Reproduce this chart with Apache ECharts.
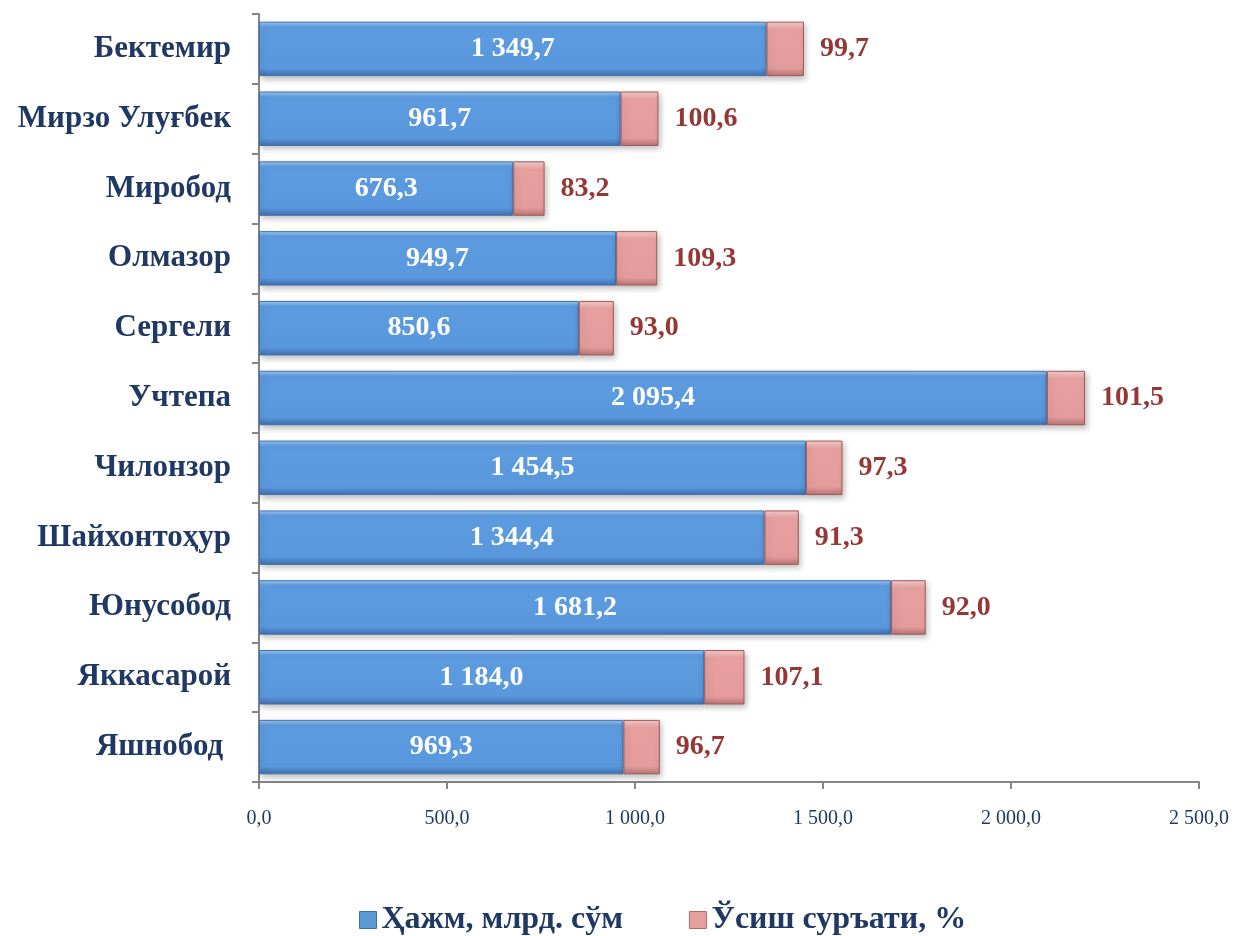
<!DOCTYPE html>
<html><head><meta charset="utf-8">
<script src="https://cdn.jsdelivr.net/npm/echarts@6/dist/echarts.min.js"></script>
<style>html,body{margin:0;padding:0;background:#fff}#c{width:1239px;height:936px}</style>
</head><body><div id="c"></div>
<script>
const categories = ['Бектемир','Мирзо Улуғбек','Миробод','Олмазор','Сергели','Учтепа','Чилонзор','Шайхонтоҳур','Юнусобод','Яккасарой','Яшнобод '];
const volume = [1349.7, 961.7, 676.3, 949.7, 850.6, 2095.4, 1454.5, 1344.4, 1681.2, 1184.0, 969.3];
const growth = [99.7, 100.6, 83.2, 109.3, 93.0, 101.5, 97.3, 91.3, 92.0, 107.1, 96.7];
const seriesNames = ['Ҳажм, млрд. сўм', 'Ўсиш суръати, %'];

function fmt(v){
  const s = v.toFixed(1).split('.');
  const int = s[0].replace(/\B(?=(\d{3})+(?!\d))/g, ' ');
  return int + ',' + s[1];
}
const font = '"Liberation Serif", "Times New Roman", serif';
const navy = '#1F3864';
const chart = echarts.init(document.getElementById('c'));
chart.setOption({
  animation: false,
  grid: {left: 259, right: 40, top: 14, bottom: 154, containLabel: false},
  legend: {
    top: 899, left: 354, itemGap: 66, itemWidth: 17, itemHeight: 17,
    textStyle: {fontFamily: font, fontWeight: 'bold', fontSize: 32, color: navy},
    data: [
      {name: seriesNames[0], icon: 'rect', itemStyle: {color: '#5B9BD5', borderColor: '#3A6EA5', borderWidth: 1}},
      {name: seriesNames[1], icon: 'rect', itemStyle: {color: '#E6A09E', borderColor: '#B56A68', borderWidth: 1}}
    ]
  },
  xAxis: {
    type: 'value', min: 0, max: 2500, interval: 500,
    axisLine: {show: true, lineStyle: {color: '#868686', width: 2}},
    axisTick: {show: true, length: 7, lineStyle: {color: '#868686', width: 2}},
    splitLine: {show: false},
    axisLabel: {margin: 27, fontFamily: font, fontSize: 20, color: navy, formatter: v => fmt(v)}
  },
  yAxis: {
    type: 'category', inverse: true, data: categories,
    axisLine: {show: true, lineStyle: {color: '#868686', width: 2}},
    axisTick: {show: true, length: 7, lineStyle: {color: '#868686', width: 2}},
    axisLabel: {margin: 28, fontFamily: font, fontWeight: 'bold', fontSize: 31, color: navy}
  },
  series: [
    {
      name: seriesNames[0], type: 'bar', stack: 't', data: volume, barCategoryGap: '22%',
      itemStyle: {
        color: new echarts.graphic.LinearGradient(0,0,0,1,[
          {offset:0, color:'#9CCBF4'},{offset:0.1, color:'#5D9BE0'},{offset:0.85, color:'#5A98DE'},{offset:1, color:'#3F6FB0'}]),
        borderColor: '#4470A8', borderWidth: 1,
        shadowColor: 'rgba(0,0,0,0.25)', shadowBlur: 6, shadowOffsetX: 2, shadowOffsetY: 3
      },
      label: {show: true, position: 'inside', formatter: p => fmt(p.value),
        fontFamily: font, fontWeight: 'bold', fontSize: 28, color: '#fff'}
    },
    {
      name: seriesNames[1], type: 'bar', stack: 't', data: growth,
      itemStyle: {
        color: new echarts.graphic.LinearGradient(0,0,0,1,[
          {offset:0, color:'#F6CFCE'},{offset:0.15, color:'#E7A09F'},{offset:0.85, color:'#E39C9B'},{offset:1, color:'#B87472'}]),
        borderColor: '#9E5957', borderWidth: 1,
        shadowColor: 'rgba(0,0,0,0.25)', shadowBlur: 6, shadowOffsetX: 2, shadowOffsetY: 3
      },
      label: {show: true, position: 'right', distance: 16, formatter: p => fmt(p.value),
        fontFamily: font, fontWeight: 'bold', fontSize: 28, color: '#953735'}
    }
  ]
});
</script></body></html>
